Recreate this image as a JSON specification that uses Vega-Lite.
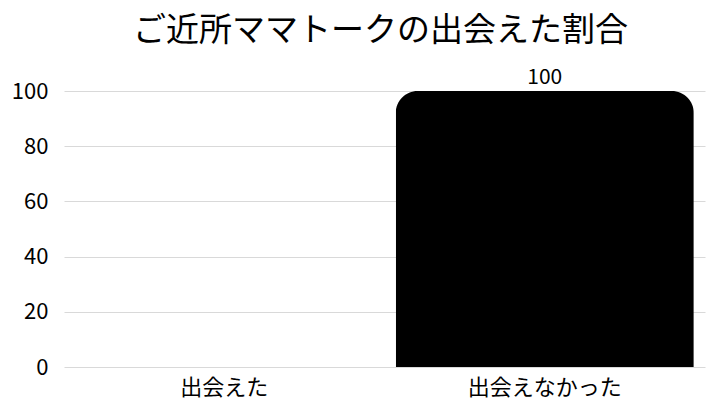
{
  "$schema": "https://vega.github.io/schema/vega-lite/v6.json",
  "autosize": {"type": "none"},
  "width": 641,
  "height": 276,
  "padding": {"left": 64, "top": 91, "right": 15, "bottom": 33},
  "background": "white",
  "title": {
    "text": "ご近所ママトークの出会えた割合",
    "font": "Noto Sans CJK JP",
    "fontSize": 33,
    "fontWeight": "normal",
    "color": "#000000",
    "anchor": "middle",
    "dx": -4,
    "offset": 19
  },
  "config": {
    "view": {"stroke": null},
    "font": "Noto Sans CJK JP"
  },
  "data": {
    "values": [
      {"category": "出会えた", "value": 0},
      {"category": "出会えなかった", "value": 100}
    ]
  },
  "encoding": {
    "x": {
      "field": "category",
      "type": "nominal",
      "sort": null,
      "scale": {"paddingInner": 0.07, "paddingOuter": 0.035},
      "axis": {
        "title": null,
        "labelAngle": 0,
        "domain": false,
        "ticks": false,
        "labelFont": "Noto Sans CJK JP",
        "labelFontSize": 22,
        "labelColor": "#000000",
        "labelPadding": 10
      }
    },
    "y": {
      "field": "value",
      "type": "quantitative",
      "scale": {"domain": [0, 100]},
      "axis": {
        "title": null,
        "values": [0, 20, 40, 60, 80, 100],
        "domain": false,
        "ticks": false,
        "gridColor": "#d9d9d9",
        "gridWidth": 1,
        "labelFont": "Noto Sans CJK JP",
        "labelFontSize": 22,
        "labelColor": "#000000",
        "labelPadding": 16
      }
    }
  },
  "layer": [
    {
      "mark": {
        "type": "bar",
        "color": "#000000",
        "cornerRadiusTopLeft": 22,
        "cornerRadiusTopRight": 22
      }
    },
    {
      "transform": [{"filter": "datum.value > 0"}],
      "mark": {
        "type": "text",
        "baseline": "bottom",
        "dy": -3,
        "font": "Noto Sans CJK JP",
        "fontSize": 21,
        "color": "#000000"
      },
      "encoding": {"text": {"field": "value", "type": "quantitative"}}
    }
  ]
}
